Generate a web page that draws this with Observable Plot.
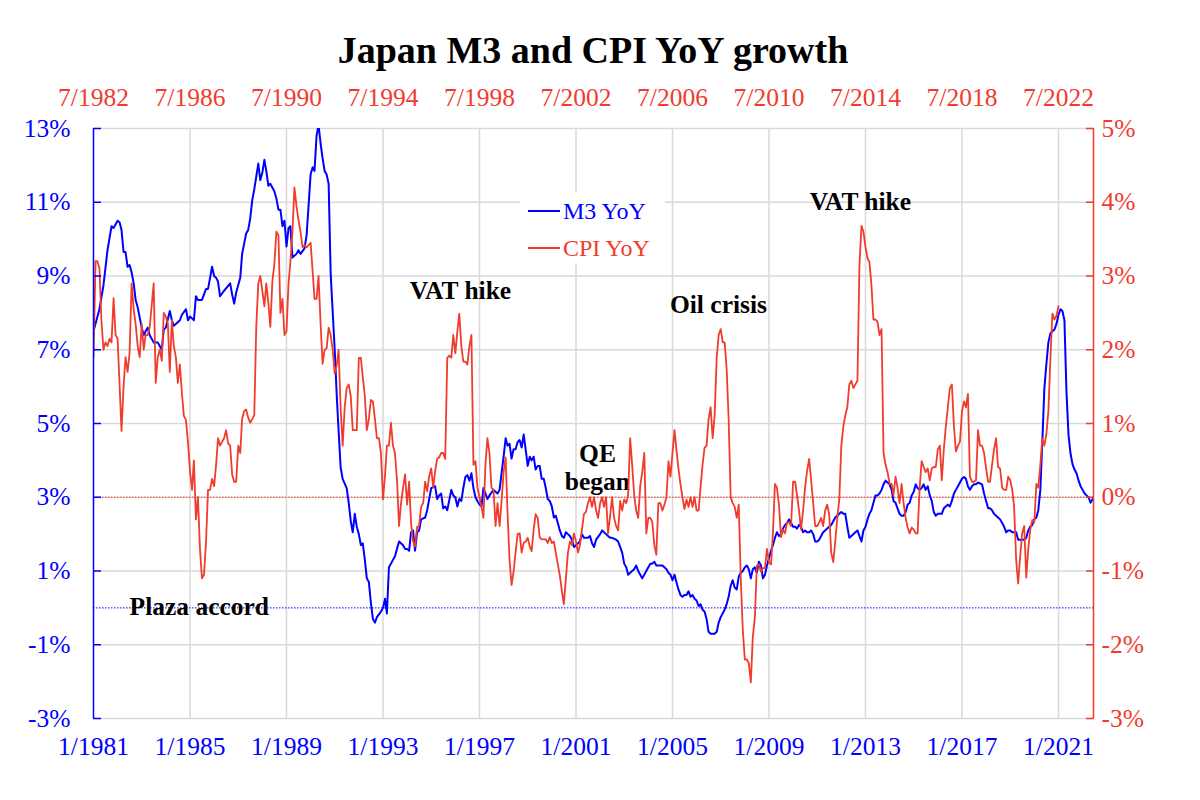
<!DOCTYPE html>
<html>
<head>
<meta charset="utf-8">
<script src="https://cdn.jsdelivr.net/npm/d3@7"></script>
<script src="https://cdn.jsdelivr.net/npm/@observablehq/plot@0.6"></script>
<style>
  body { margin: 0; background: #fff; font-family: "Liberation Serif", "Times New Roman", serif; }
  #wrap { position: relative; width: 1200px; height: 800px; overflow: hidden; }
  #title { position: absolute; left: 0; top: 31px; width: 1186px; text-align: center; font-weight: bold; font-size: 38px; line-height: 38px; color: #000; }
  #chart { position: absolute; left: 0; top: 75px; }
  #legend { position: absolute; left: 520px; top: 192px; width: 145px; height: 71px; background: #fff; }
  .item { position: absolute; left: 8px; height: 28px; display: flex; align-items: center; font-size: 24px; line-height: 28px; white-space: nowrap; }
  .swatch { width: 32px; height: 0; border-top: 2px solid; margin-right: 3px; }
</style>
</head>
<body>
<div id="wrap">
  <div id="title">Japan M3 and CPI YoY growth</div>
  <div id="chart"></div>
  <div id="legend">
    <div class="item" id="leg-m3" style="top:5px;color:#0000ff"><span class="swatch" style="border-color:#0000ff"></span><span>M3 YoY</span></div>
    <div class="item" id="leg-cpi" style="top:42px;color:#f03c2c"><span class="swatch" style="border-color:#f03c2c"></span><span>CPI YoY</span></div>
  </div>
</div>
<script>
// ---------------- data ----------------
const m3Months = [
  "1981-01","1981-04","1981-06","1981-08","1981-10","1981-11",
  "1982-01","1982-02","1982-03","1982-04","1982-05","1982-06","1982-07","1982-08","1982-09","1982-10","1982-11",
  "1983-01","1983-02","1983-03","1983-04","1983-05","1983-07","1983-08","1983-09","1983-10","1983-11","1983-12",
  "1984-01","1984-03","1984-04","1984-05","1984-06","1984-08","1984-09","1984-11","1984-12",
  "1985-01","1985-02","1985-03","1985-04","1985-05","1985-07","1985-09","1985-10","1985-11","1985-12",
  "1986-01","1986-02","1986-03","1986-04","1986-06","1986-09","1986-10","1986-11","1986-12",
  "1987-02","1987-03","1987-05","1987-06","1987-07","1987-08","1987-09","1987-11","1987-12",
  "1988-01","1988-02","1988-03","1988-04","1988-05","1988-07","1988-08","1988-09","1988-10","1988-11","1988-12",
  "1989-01","1989-02","1989-03","1989-04","1989-06","1989-07","1989-08","1989-10","1989-11","1989-12",
  "1990-01","1990-02","1990-03","1990-04","1990-05","1990-06","1990-07","1990-08","1990-09","1990-10","1990-11",
  "1991-01","1991-02","1991-03","1991-04","1991-05","1991-07","1991-08","1991-09","1991-10","1991-11","1991-12",
  "1992-01","1992-02","1992-03","1992-04","1992-05","1992-06","1992-07","1992-08","1992-09","1992-10","1992-12",
  "1993-01","1993-02","1993-03","1993-04","1993-05","1993-07","1993-08","1993-09","1993-11","1993-12",
  "1994-01","1994-02","1994-03","1994-04","1994-05","1994-06","1994-07","1994-08","1994-10","1994-11","1994-12",
  "1995-01","1995-03","1995-04","1995-05","1995-06","1995-07","1995-08","1995-09","1995-11","1995-12",
  "1996-01","1996-02","1996-03","1996-04","1996-05","1996-06","1996-07","1996-08","1996-09","1996-10","1996-11","1996-12",
  "1997-01","1997-02","1997-03","1997-04","1997-05","1997-06","1997-08","1997-09","1997-10","1997-11","1997-12",
  "1998-01","1998-02","1998-03","1998-04","1998-05","1998-06","1998-07","1998-08","1998-09","1998-10","1998-11","1998-12",
  "1999-01","1999-02","1999-03","1999-04","1999-05","1999-06","1999-07","1999-08","1999-09","1999-10","1999-11","1999-12",
  "2000-01","2000-02","2000-03","2000-04","2000-05","2000-06","2000-07","2000-08","2000-09","2000-10","2000-11","2000-12",
  "2001-01","2001-02","2001-03","2001-04","2001-05","2001-07","2001-08","2001-09","2001-10","2001-11",
  "2002-01","2002-02","2002-03","2002-04","2002-05","2002-06","2002-07","2002-09","2002-10","2002-11","2002-12",
  "2003-01","2003-02","2003-03","2003-04","2003-05","2003-06","2003-07","2003-08","2003-09","2003-10","2003-12",
  "2004-01","2004-02","2004-03","2004-04","2004-05","2004-07","2004-08","2004-09","2004-10","2004-11","2004-12",
  "2005-01","2005-02","2005-03","2005-04","2005-05","2005-06","2005-07","2005-08","2005-09","2005-10","2005-11","2005-12",
  "2006-01","2006-02","2006-03","2006-04","2006-05","2006-06","2006-07","2006-08","2006-09","2006-10","2006-11","2006-12",
  "2007-01","2007-03","2007-04","2007-05","2007-06","2007-07","2007-08","2007-09","2007-10","2007-11","2007-12",
  "2008-01","2008-02","2008-03","2008-04","2008-05","2008-06","2008-07","2008-08","2008-09","2008-10","2008-11","2008-12",
  "2009-01","2009-02","2009-03","2009-04","2009-05","2009-06","2009-07","2009-08","2009-09","2009-10","2009-11","2009-12",
  "2010-01","2010-02","2010-03","2010-04","2010-05","2010-06","2010-07","2010-08","2010-09","2010-10","2010-11","2010-12",
  "2011-01","2011-02","2011-03","2011-04","2011-05","2011-06","2011-07","2011-08","2011-09","2011-10","2011-11","2011-12",
  "2012-01","2012-02","2012-03","2012-04","2012-05","2012-06","2012-08","2012-09","2012-10","2012-11","2012-12",
  "2013-01","2013-02","2013-03","2013-04","2013-05","2013-06","2013-07","2013-08","2013-09","2013-10","2013-11","2013-12",
  "2014-01","2014-02","2014-03","2014-04","2014-05","2014-06","2014-07","2014-08","2014-09","2014-10","2014-11","2014-12",
  "2015-01","2015-02","2015-03","2015-04","2015-05","2015-06","2015-07","2015-08","2015-09","2015-10","2015-11","2015-12",
  "2016-01","2016-03","2016-04","2016-05","2016-06","2016-07","2016-08","2016-09","2016-10","2016-11","2016-12",
  "2017-01","2017-02","2017-03","2017-04","2017-05","2017-06","2017-07","2017-08","2017-09","2017-11","2017-12",
  "2018-01","2018-02","2018-03","2018-04","2018-05","2018-06","2018-07","2018-08","2018-09","2018-10","2018-11","2018-12",
  "2019-01","2019-02","2019-03","2019-04","2019-05","2019-06","2019-07","2019-08","2019-09","2019-10","2019-11","2019-12",
  "2020-01","2020-02","2020-03","2020-04","2020-05","2020-06","2020-07","2020-08","2020-09","2020-10","2020-11","2020-12",
  "2021-01","2021-02","2021-03","2021-04","2021-05","2021-06","2021-07","2021-08","2021-09","2021-10","2021-11","2021-12",
  "2022-01","2022-02","2022-03","2022-04","2022-05","2022-06"
];
const m3Values = [
  7.5,8.1,8.75,9.7,10.35,10.3,
  10.5,10.45,10.25,9.65,9.65,9.25,9.3,9.1,8.8,8.35,8.15,
  7.6,7.4,7.5,7.6,7.4,7.2,7.2,7.2,7.1,7.0,7.55,
  7.6,8.05,7.8,7.65,7.7,7.8,7.95,8.1,7.8,
  7.9,7.85,7.8,8.45,8.35,8.35,8.65,8.65,8.95,9.25,
  9.0,8.95,8.85,8.45,8.6,8.8,8.5,8.25,8.55,
  8.95,9.6,10.15,10.25,10.55,11.05,11.35,12.05,11.6,
  11.8,12.15,11.85,11.45,11.5,11.3,11.1,10.8,10.8,10.35,10.5,
  9.8,10.3,10.35,9.5,9.6,9.7,9.6,9.75,10.1,10.9,
  11.75,11.95,11.85,12.8,13.1,12.6,12.2,11.85,11.75,11.5,9.05,
  7.0,5.75,4.8,3.8,3.5,3.25,2.85,2.35,2.05,2.55,2.2,
  2.0,1.7,1.75,1.3,0.8,0.7,0.15,-0.3,-0.4,-0.25,-0.1,
  0.0,0.25,-0.15,1.1,1.2,1.4,1.6,1.8,1.7,1.6,
  1.6,1.55,2.05,2.1,1.55,2.05,2.1,2.4,2.45,2.65,2.95,
  3.25,3.3,2.95,3.05,3.1,2.7,2.75,2.65,3.2,3.05,
  3.0,2.75,2.95,2.9,3.25,3.55,3.6,3.45,3.65,3.25,3.0,2.9,
  2.8,2.75,3.25,3.1,2.95,3.05,3.2,3.15,3.1,3.2,3.65,
  4.1,4.6,4.4,4.45,4.05,4.3,4.3,4.5,4.55,4.35,4.7,4.3,
  3.85,4.1,4.0,4.1,3.75,3.85,3.85,3.5,3.5,3.25,2.95,2.9,
  2.75,2.45,2.5,2.3,2.1,1.95,1.9,2.05,2.0,1.95,1.85,1.65,
  1.7,1.75,1.8,2.0,1.9,1.9,1.95,1.75,1.65,1.85,
  2.0,2.1,2.05,2.0,1.95,1.9,1.9,1.85,1.8,1.65,1.5,
  1.2,1.1,0.9,0.95,1.0,1.05,1.15,1.0,0.9,0.8,1.0,
  1.1,1.2,1.2,1.25,1.15,1.15,1.15,1.1,1.05,0.95,0.9,
  0.75,0.9,0.7,0.5,0.35,0.3,0.35,0.35,0.45,0.3,0.35,0.25,
  0.2,0.05,0.1,-0.05,-0.1,-0.3,-0.65,-0.7,-0.7,-0.7,-0.65,-0.4,
  -0.25,-0.05,0.1,0.3,0.6,0.75,0.55,0.5,0.85,0.95,1.0,
  1.1,1.15,1.05,0.8,1.05,1.1,0.95,1.25,1.15,0.8,0.9,1.15,
  1.35,1.55,1.7,1.9,2.05,1.95,2.0,2.15,2.25,2.3,2.4,2.3,
  2.2,2.2,2.15,2.25,2.2,2.05,2.1,2.05,2.05,2.1,2.0,1.8,
  1.8,1.85,1.95,2.05,2.1,2.15,2.2,2.25,2.35,2.45,2.5,2.55,
  2.6,2.55,2.55,2.2,1.9,1.95,2.05,2.1,1.95,1.8,2.1,
  2.2,2.4,2.55,2.65,2.85,3.05,3.05,3.1,3.2,3.35,3.45,3.4,
  3.35,3.2,2.9,2.85,2.7,2.55,2.5,2.5,2.6,2.8,2.85,3.05,
  3.15,3.35,3.25,3.2,3.25,3.35,3.2,3.3,3.05,2.9,2.6,2.5,
  2.55,2.55,2.7,2.75,2.8,2.75,2.9,3.1,3.2,3.3,3.4,
  3.5,3.55,3.5,3.3,3.2,3.3,3.35,3.35,3.4,3.35,3.1,
  2.9,2.7,2.7,2.65,2.55,2.5,2.45,2.4,2.3,2.2,2.05,2.1,
  2.1,2.05,2.05,2.05,1.85,1.85,1.85,1.85,1.9,2.1,2.2,2.25,
  2.4,2.45,2.65,3.2,4.5,5.95,6.6,7.2,7.45,7.5,7.55,7.7,
  7.95,8.1,8.05,7.8,5.9,4.7,4.2,3.9,3.75,3.65,3.45,3.3,
  3.2,3.1,3.05,3.0,2.85,2.95
];

// CPI YoY, monthly from cpiStartMonth
const cpiStartMonth = "1982-07";
const cpiValues = [
  1.9,3.2,3.2,3.1,2.4,2.0,2.1,2.05,2.15,2.1,
  2.7,2.2,2.15,1.5,0.9,1.5,1.9,1.7,1.95,2.9,
  2.55,2.35,2.05,1.9,2.35,2.0,2.2,2.2,2.3,2.6,
  2.9,1.55,1.9,2.0,1.85,2.5,2.45,2.35,1.7,2.4,
  2.05,1.9,1.55,1.8,1.4,1.1,1.05,0.75,0.35,0.1,
  0.5,-0.3,0.0,-0.7,-1.1,-1.05,-0.6,0.1,0.1,0.25,
  0.15,0.45,0.8,0.7,0.75,0.8,0.91,0.73,0.7,0.31,
  0.21,0.21,0.7,0.6,1.06,1.17,1.19,1.08,1.01,1.06,
  1.11,2.31,2.9,3.0,2.8,2.59,2.9,2.64,2.31,2.93,
  3.16,3.6,3.55,2.5,2.69,2.2,2.25,2.9,3.19,3.6,
  4.2,3.95,3.76,3.6,3.39,3.42,3.39,3.42,3.45,3.06,
  2.69,2.69,3.0,2.36,1.81,2.0,2.02,2.3,2.2,2.0,
  1.68,1.79,2.0,1.2,0.7,1.22,1.48,1.53,1.37,0.91,
  0.91,0.91,1.89,1.89,1.63,1.37,0.91,1.06,1.32,1.3,
  1.06,0.8,0.8,0.6,-0.03,0.3,0.7,0.7,1.01,0.7,
  0.6,0.23,-0.39,-0.08,0.13,0.31,-0.1,0.21,-0.34,-0.6,
  -0.67,-0.4,-0.39,-0.13,-0.08,0.21,0.08,0.28,0.39,0.13,
  0.35,0.52,0.54,0.6,0.6,0.52,1.89,1.92,1.89,2.2,
  1.95,2.25,2.49,2.05,1.84,1.84,1.8,2.05,2.2,0.44,
  0.49,0.13,0.0,-0.13,-0.28,0.44,0.8,0.6,0.13,0.1,
  -0.39,-0.08,-0.39,-0.05,0.34,0.54,-0.2,-0.85,-1.19,-1.01,
  -0.75,-0.5,-0.49,-0.75,-0.62,-0.6,-0.55,-0.67,-0.73,-0.44,
  -0.23,-0.28,-0.54,-0.57,-0.57,-0.57,-0.62,-0.54,-0.62,-0.6,
  -0.75,-0.91,-1.06,-1.27,-1.45,-1.1,-0.75,-0.6,-0.65,-0.49,
  -0.6,-0.75,-0.65,-0.44,-0.23,-0.2,-0.08,0.0,-0.13,0.0,
  -0.18,-0.28,-0.08,0.0,-0.13,0.0,-0.49,-0.26,0.0,-0.28,
  -0.39,-0.45,-0.05,-0.18,-0.03,-0.08,0.03,0.8,0.44,0.03,
  -0.18,-0.28,0.16,0.34,0.6,-0.49,-0.28,-0.28,-0.34,-0.65,
  -0.78,-0.08,-0.08,-0.18,-0.1,0.0,0.49,0.28,0.6,0.91,
  0.65,0.39,0.18,0.0,-0.16,-0.03,-0.13,0.0,-0.13,0.0,
  -0.18,-0.18,0.13,0.44,0.67,0.7,1.06,1.22,0.8,1.11,
  1.89,2.2,2.28,2.1,2.1,1.74,1.06,0.0,-0.08,-0.13,
  -0.28,-0.1,-1.11,-1.79,-2.2,-2.2,-2.25,-2.51,-1.89,-1.63,
  -0.93,-0.91,-1.01,-0.96,-0.96,-0.7,-0.88,-0.91,-0.49,0.18,
  0.13,-0.1,-0.54,-0.44,-0.49,-0.34,-0.34,-0.39,0.21,0.21,
  0.03,-0.18,-0.44,-0.18,0.13,0.36,0.52,0.23,-0.08,-0.39,
  -0.39,-0.34,-0.28,-0.39,-0.18,-0.1,-0.23,-0.75,-0.88,-0.6,
  -0.28,-0.03,0.7,0.96,1.11,1.22,1.53,1.58,1.48,1.53,
  1.58,3.13,3.68,3.6,3.39,3.24,3.19,2.88,2.41,2.41,
  2.38,2.2,2.28,0.6,0.44,0.34,0.18,0.18,0.03,0.28,
  0.13,-0.08,0.18,-0.08,-0.28,-0.41,-0.49,-0.41,-0.44,-0.49,
  -0.49,0.13,0.49,0.41,0.34,0.39,0.23,0.39,0.41,0.41,
  0.65,0.7,0.23,0.65,0.96,1.22,1.48,1.53,0.96,0.62,
  0.7,0.75,1.17,1.3,1.22,1.4,0.28,0.21,0.21,0.23,
  0.91,0.7,0.7,0.6,0.39,0.21,0.21,0.44,0.65,0.8,
  0.41,0.39,0.13,0.1,0.1,0.28,0.23,0.1,-0.13,-0.85,
  -1.17,-0.8,-0.49,-0.39,-1.09,-0.7,-0.44,-0.31,-0.34,0.18,
  0.13,0.44,0.8,0.7,0.85,1.17,1.89,2.49,2.41,2.46,2.59
];

// CPI series is drawn against a time axis that leads the M3 axis by this many months
const cpiLeadMonths = 18;

// axes
const xDomain = ["1981-01", "2022-06-15"];
const xTickMonths = ["1981-01","1985-01","1989-01","1993-01","1997-01","2001-01","2005-01","2009-01","2013-01","2017-01","2021-01"];
const m3Ticks = [-3, -1, 1, 3, 5, 7, 9, 11, 13];
const cpiTicks = [-3, -2, -1, 0, 1, 2, 3, 4, 5];

// annotations (date, M3-axis value)
const noteLabels = ["Plaza accord", "VAT hike", "QE\nbegan", "Oil crisis", "VAT hike"];
const noteDates = ["1985-05-22", "1996-03-19", "2001-11-22", "2006-11-28", "2012-10-16"];
const noteValues = [0.05, 8.63, 3.83, 8.25, 11.05];

// ---------------- chart ----------------
const blue = "#0000ff", red = "#f03c2c", gridColor = "#d9d9d9";
const toDate = s => new Date(s);
const m3 = m3Months.map((s, i) => ({date: toDate(s), value: m3Values[i]}));
const cpiStart = toDate(cpiStartMonth);
const cpi = cpiValues.map((v, i) => ({date: d3.utcMonth.offset(cpiStart, i), value: v}));
const notes = noteLabels.map((t, i) => ({label: t, date: toDate(noteDates[i]), value: noteValues[i]}));
// CPI (right axis) → M3 (left axis) units: CPI 0% ↔ M3 3%, 1 pt CPI = 2 pt M3
const cpiToM3 = v => 3 + 2 * v;
const xStart = toDate(xDomain[0]), xEnd = toDate(xDomain[1]);
const xTicks = xTickMonths.map(toDate);
const fmtMonth = d => `${d.getUTCMonth() + 1}/${d.getUTCFullYear()}`;
const pct = v => `${v < 0 ? "-" : ""}${Math.abs(Math.round(v * 100) / 100)}%`;

const chart = Plot.plot({
  width: 1200,
  height: 725,
  marginTop: 53,
  marginRight: 107,
  marginBottom: 82,
  marginLeft: 93,
  style: {fontFamily: "'Liberation Serif', 'Times New Roman', serif", fontSize: "25.5px", background: "white", overflow: "visible"},
  x: {type: "utc", domain: [xStart, xEnd]},
  y: {domain: [m3Ticks[0], m3Ticks[m3Ticks.length - 1]]},
  marks: [
    Plot.gridY(m3Ticks, {stroke: gridColor, strokeOpacity: 1, strokeWidth: 1.5}),
    Plot.gridX(xTicks.slice(1), {stroke: gridColor, strokeOpacity: 1, strokeWidth: 1.5}),
    Plot.ruleY([cpiToM3(0)], {stroke: red, strokeWidth: 1, strokeDasharray: "1.5,1.5"}),
    Plot.ruleY([0], {stroke: blue, strokeWidth: 1, strokeDasharray: "1.5,1.5"}),
    Plot.text(notes, {x: "date", y: "value", text: "label", fontWeight: "bold", fontSize: 25.5, fill: "black", lineHeight: 1.12}),
    Plot.lineY(m3, {x: "date", y: "value", stroke: blue, strokeWidth: 2, clip: true}),
    Plot.lineY(cpi, {x: d => d3.utcMonth.offset(d.date, -cpiLeadMonths), y: d => cpiToM3(d.value), stroke: red, strokeWidth: 1.8, clip: true}),
    Plot.ruleX([xStart], {stroke: blue, strokeWidth: 1.5}),
    Plot.ruleX([xEnd], {stroke: red, strokeWidth: 1.5}),
    Plot.axisY(m3Ticks, {anchor: "left", tickSize: 8, dx: 8, fill: "none", stroke: blue, strokeWidth: 1.5, label: null}),
    Plot.axisY(m3Ticks, {anchor: "left", tickSize: 0, tickPadding: 23, tickFormat: pct, fill: blue, label: null}),
    Plot.axisY(cpiTicks.map(cpiToM3), {anchor: "right", tickSize: 8, dx: -8, fill: "none", stroke: red, strokeWidth: 1.5, label: null}),
    Plot.axisY(cpiTicks.map(cpiToM3), {anchor: "right", tickSize: 0, tickPadding: 8, tickFormat: v => pct((v - 3) / 2), fill: red, label: null}),
    Plot.axisX(xTicks, {anchor: "bottom", tickSize: 0, tickPadding: 18, tickFormat: fmtMonth, fill: blue, label: null}),
    Plot.axisX(xTicks, {anchor: "top", tickSize: 0, tickPadding: 23, tickFormat: d => fmtMonth(d3.utcMonth.offset(d, cpiLeadMonths)), fill: red, label: null})
  ]
});
document.getElementById("chart").appendChild(chart);
</script>
</body>
</html>
